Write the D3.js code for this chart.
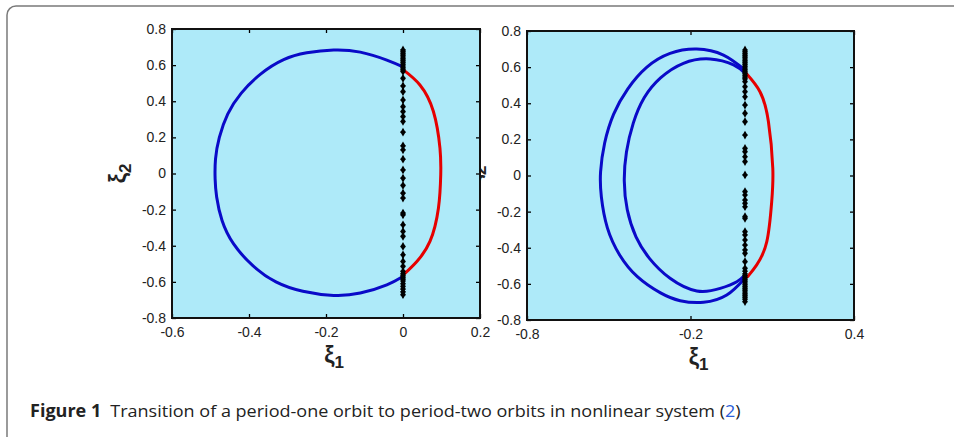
<!DOCTYPE html>
<html>
<head>
<meta charset="utf-8">
<title>Figure 1</title>
<style>
body { margin: 0; background: #fff; }
svg { display: block; }
.axlabel { font-family: "Liberation Sans", Arial, sans-serif; font-weight: bold; fill: #222; }
.caption { font-family: "Open Sans", sans-serif; font-size: 17px; fill: #222; }
</style>
</head>
<body>
<div id="vis"></div>
<script src="https://cdn.jsdelivr.net/npm/d3@7"></script>
<script>

// ---- data ----
// left panel : period-one orbit
var leftBlue = [[0,0.59],[-0.042,0.628],[-0.111,0.672],[-0.18,0.684],[-0.25,0.668],[-0.31,0.63],
  [-0.37,0.55],[-0.42,0.445],[-0.455,0.33],[-0.477,0.2],[-0.487,0.08],[-0.488,-0.03],
  [-0.484,-0.13],[-0.47,-0.26],[-0.44,-0.39],[-0.39,-0.51],[-0.33,-0.6],[-0.26,-0.652],
  [-0.18,-0.675],[-0.111,-0.662],[-0.042,-0.616],[0,-0.57]];
var leftRed = [[0,0.575],[0.044,0.49],[0.079,0.343],[0.096,0.14],[0.098,-0.007],[0.092,-0.192],
  [0.07,-0.376],[0.036,-0.487],[0.004,-0.555]];
var leftDots = [0.684,0.675,0.665,0.655,0.645,0.635,0.625,0.615,0.605,0.595,0.585,0.575,0.565,
  0.527,0.485,0.453,0.407,0.37,0.343,0.315,0.288,0.229,0.153,0.131,0.079,0.02,-0.026,-0.066,
  -0.109,-0.136,-0.219,-0.229,-0.284,-0.321,-0.348,-0.404,-0.45,-0.487,-0.514,-0.542,-0.555,
  -0.565,-0.575,-0.585,-0.595,-0.61,-0.625,-0.64,-0.655,-0.671];

// right panel : period-two orbits
var rightOuter = [[0,0.584],[-0.079,0.667],[-0.177,0.7],[-0.275,0.676],[-0.36,0.6],[-0.43,0.48],
  [-0.482,0.34],[-0.515,0.18],[-0.53,0.02],[-0.527,-0.12],[-0.505,-0.29],[-0.46,-0.44],
  [-0.395,-0.56],[-0.31,-0.65],[-0.238,-0.693],[-0.152,-0.702],[-0.067,-0.662],[0,-0.569]];
var rightInner = [[0,0.566],[-0.042,0.612],[-0.128,0.645],[-0.226,0.621],[-0.31,0.54],[-0.37,0.43],
  [-0.41,0.29],[-0.435,0.13],[-0.443,-0.03],[-0.432,-0.19],[-0.4,-0.34],[-0.35,-0.46],
  [-0.275,-0.569],[-0.177,-0.639],[-0.091,-0.625],[-0.03,-0.588],[0,-0.551]];
var rightRed = [[0.004,0.566],[0.055,0.464],[0.086,0.298],[0.102,0.04],[0.098,-0.145],[0.08,-0.366],
  [0.043,-0.495],[0.01,-0.56]];
var rightDots = [0.695,0.685,0.675,0.665,0.655,0.645,0.635,0.625,0.615,0.605,0.595,0.585,0.575,
  0.565,0.555,0.545,0.535,0.52,0.492,0.464,0.436,0.39,0.344,0.298,0.224,0.15,0.132,0.104,0.077,
  0.003,-0.089,-0.108,-0.136,-0.154,-0.173,-0.228,-0.237,-0.311,-0.329,-0.357,-0.385,-0.412,
  -0.431,-0.477,-0.514,-0.53,-0.545,-0.555,-0.565,-0.575,-0.585,-0.595,-0.605,-0.615,-0.625,
  -0.635,-0.645,-0.655,-0.665,-0.675,-0.685,-0.698];

var yTicks = [-0.8,-0.6,-0.4,-0.2,0,0.2,0.4,0.6,0.8];
var leftXTicks = [-0.6,-0.4,-0.2,0,0.2];
var rightXTicks = [-0.8,-0.2,0.4];

var W = 954, H = 437;
var svg = d3.select("#vis").append("svg").attr("width", W).attr("height", H);

// outer frame of the figure
svg.append("rect")
  .attr("x", 7).attr("y", 6).attr("width", 960).attr("height", 440)
  .attr("rx", 9).attr("fill", "none").attr("stroke", "#7a7a7a").attr("stroke-width", 1.5);

// matlab style labels: plain hyphen, no trailing zeros
function fmt(v) {
  if (Math.abs(v) < 1e-9) return "0";
  return (v < 0 ? "-" : "") + Math.abs(v).toFixed(1);
}

function panel(box, xDom, xTicks, blues, red, dots) {
  var x = d3.scaleLinear().domain(xDom).range([box.x0, box.x1]);
  var y = d3.scaleLinear().domain([-0.8, 0.8]).range([box.y1, box.y0]);
  var g = svg.append("g");

  // y label (ξ2)
  var yl = g.append("text").attr("class", "axlabel")
    .attr("transform", "translate(" + (box.x0 - 46) + "," + ((box.y0 + box.y1) / 2) + ") rotate(-90)")
    .attr("text-anchor", "middle");
  yl.append("tspan").attr("font-size", 23).text("ξ");
  yl.append("tspan").attr("font-size", 17).attr("dy", 5).text("2");

  g.append("rect")
    .attr("x", box.x0).attr("y", box.y0)
    .attr("width", box.x1 - box.x0).attr("height", box.y1 - box.y0)
    .attr("fill", "#aeeaf9");

  var line = d3.line().x(function(d) { return x(d[0]); }).y(function(d) { return y(d[1]); })
    .curve(d3.curveNatural);

  blues.forEach(function(b) {
    g.append("path").attr("d", line(b)).attr("fill", "none")
      .attr("stroke", "#0a0ac8").attr("stroke-width", 3).attr("stroke-linecap", "round");
  });
  g.append("path").attr("d", line(red)).attr("fill", "none")
    .attr("stroke", "#e60000").attr("stroke-width", 3).attr("stroke-linecap", "round");

  var sym = d3.symbol().type(d3.symbolDiamond).size(22);
  var cross = d3.symbol().type(d3.symbolCross).size(14);
  g.selectAll(".dot").data(dots).enter().append("path")
    .attr("transform", function(d) { return "translate(" + x(0) + "," + y(d) + ")"; })
    .attr("d", sym).attr("fill", "#000");
  g.selectAll(".dotc").data(dots).enter().append("path")
    .attr("transform", function(d) { return "translate(" + x(0) + "," + y(d) + ")"; })
    .attr("d", cross).attr("fill", "#000");

  // axes, MATLAB style box with inward ticks
  var ax = g.append("g").attr("transform", "translate(0," + box.y1 + ")")
    .call(d3.axisBottom(x).tickValues(xTicks).tickSizeInner(-4).tickSizeOuter(0).tickFormat(fmt));
  ax.selectAll(".tick text").attr("y", 9);
  var axT = g.append("g").attr("transform", "translate(0," + box.y0 + ")")
    .call(d3.axisTop(x).tickValues(xTicks).tickSizeInner(-4).tickSizeOuter(0).tickFormat(""));
  var ay = g.append("g").attr("transform", "translate(" + box.x0 + ",0)")
    .call(d3.axisLeft(y).tickValues(yTicks).tickSizeInner(-4).tickSizeOuter(0).tickFormat(fmt));
  ay.selectAll(".tick text").attr("x", -6);
  var ayR = g.append("g").attr("transform", "translate(" + box.x1 + ",0)")
    .call(d3.axisRight(y).tickValues(yTicks).tickSizeInner(-4).tickSizeOuter(0).tickFormat(""));
  [ax, axT, ay, ayR].forEach(function(a) {
    a.attr("font-family", "'Liberation Sans', Arial, sans-serif").attr("font-size", 14);
    a.select(".domain").remove();
    a.selectAll(".tick line").attr("stroke", "#000").attr("stroke-width", 1.3);
    a.selectAll(".tick text").attr("fill", "#222");
  });

  g.append("rect")
    .attr("x", box.x0).attr("y", box.y0)
    .attr("width", box.x1 - box.x0).attr("height", box.y1 - box.y0)
    .attr("fill", "none").attr("stroke", "#111").attr("stroke-width", 2);

  // x label (ξ1)
  var xl = g.append("text").attr("class", "axlabel")
    .attr("x", (box.x0 + box.x1) / 2 + 8).attr("y", box.y1 + 45).attr("text-anchor", "middle");
  xl.append("tspan").attr("font-size", 23).text("ξ");
  xl.append("tspan").attr("font-size", 17).attr("dy", 5).text("1");
  return g;
}

// right panel drawn first so the left box covers its clipped y label
panel({x0: 527, x1: 854, y0: 31, y1: 320}, [-0.8, 0.4], rightXTicks,
  [rightOuter, rightInner], rightRed, rightDots);
panel({x0: 172, x1: 480, y0: 29, y1: 318}, [-0.6, 0.2], leftXTicks,
  [leftBlue], leftRed, leftDots);

// caption
var cap = svg.append("text").attr("class", "caption").attr("x", 30).attr("y", 417);
cap.append("tspan").attr("font-weight", "bold").text("Figure 1");
cap.append("tspan").text("\u2002Transition of a period-one orbit to period-two orbits in nonlinear system (");
cap.append("tspan").attr("fill", "#2b5fd9").text("2");
cap.append("tspan").text(")");
var len = cap.node().getComputedTextLength();
var target = 711;
cap.attr("transform", "translate(30,0) scale(" + (target / len) + ",1) translate(-30,0)");

</script>
</body>
</html>
